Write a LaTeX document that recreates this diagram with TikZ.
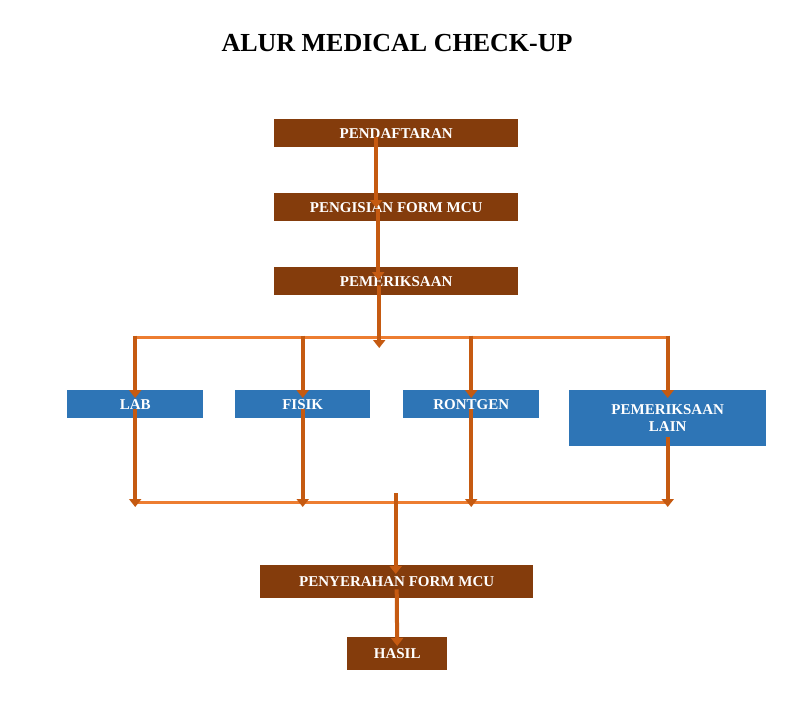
\documentclass[tikz,border=0pt]{standalone}
\usepackage{fontspec}
\setmainfont{Liberation Serif}
\usetikzlibrary{arrows.meta}
\definecolor{brn}{HTML}{843C0C}
\definecolor{blu}{HTML}{2E75B6}
\definecolor{org}{HTML}{ED7D31}
\definecolor{arr}{HTML}{C55A11}
\begin{document}
\begin{tikzpicture}[x=1pt,y=-1pt,
  bx/.style={fill=brn,text=white,font=\bfseries\fontsize{15}{17}\selectfont,anchor=north west,inner sep=0pt,align=center},
  bb/.style={bx,fill=blu},
  ln/.style={draw=org,line width=3pt},
  ar/.style={draw=arr,line width=4pt,-{Triangle[width=12pt,length=8pt]}}]
\useasboundingbox (0,0) rectangle (794,726);
\node[font=\bfseries\fontsize{26}{30}\selectfont] (t) at (397,43) {ALUR MEDICAL CHECK-UP};
\node[bx,minimum width=244pt,minimum height=28pt] (p1) at (274,119) {PENDAFTARAN};
\node[bx,minimum width=244pt,minimum height=28pt] (p2) at (274,193) {PENGISIAN FORM MCU};
\node[bx,minimum width=244pt,minimum height=28pt] (p3) at (274,267) {PEMERIKSAAN};
\node[bb,minimum width=136pt,minimum height=28pt] (lab) at (67,390) {LAB};
\node[bb,minimum width=135pt,minimum height=28pt] (fis) at (235,390) {FISIK};
\node[bb,minimum width=136pt,minimum height=28pt] (ron) at (403,390) {RONTGEN};
\node[bb,minimum width=197pt,minimum height=56pt] (lain) at (569,390) {PEMERIKSAAN\\LAIN};
\node[bx,minimum width=273pt,minimum height=33pt] (p4) at (260,565) {PENYERAHAN FORM MCU};
\node[bx,minimum width=100pt,minimum height=33pt] (h) at (347,637) {HASIL};
\coordinate (l1a) at (135,337); \coordinate (l1b) at (668,337);
\coordinate (l2a) at (135,502); \coordinate (l2b) at (668,502);
\draw[ln] (l1a) -- (l1b);
\draw[ln] (l2a) -- (l2b);
\draw[ar] ([xshift=-20pt,yshift=10pt]p1.south) -- ([xshift=-20pt,yshift=-15pt]p2.north);
\draw[ar] ([xshift=-18pt,yshift=12pt]p2.south) -- ([xshift=-18pt,yshift=-13pt]p3.north);
\draw[ar] ([xshift=-17pt,yshift=10pt]p3.south) -- ([xshift=-17pt,yshift=-11pt]p3.south |- l1a);
\foreach \n in {lab,fis,ron,lain}{
  \draw[ar] (\n.north |- l1a) ++(0,-1.5) -- ([yshift=-8pt]\n.north);
  \draw[ar] ([yshift=9pt]\n.south) -- ([yshift=-5pt]\n.south |- l2a);
}
\draw[ar] ([xshift=-1pt,yshift=9pt]p4.north |- l2a) -- ([xshift=-1pt,yshift=-9pt]p4.north);
\draw[ar] ([xshift=0pt,yshift=9pt]p4.south) -- ([yshift=-9pt]h.north);
\end{tikzpicture}
\end{document}
